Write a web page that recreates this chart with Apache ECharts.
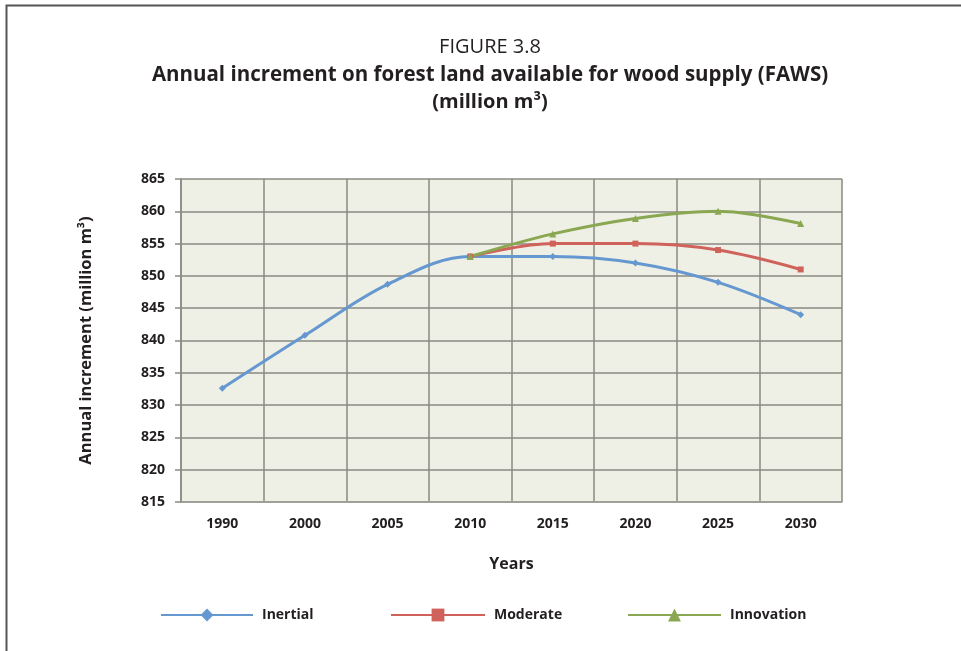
<!DOCTYPE html>
<html>
<head>
<meta charset="utf-8">
<script src="https://cdn.jsdelivr.net/npm/echarts@6/dist/echarts.min.js"></script>
<style>
html,body{margin:0;padding:0;background:#fff;}
#chart{width:961px;height:651px;}
</style>
</head>
<body>
<div id="chart"></div>
<script>
const years = ['1990', '2000', '2005', '2010', '2015', '2020', '2025', '2030'];
const inertial = [832.6, 840.8, 848.7, 853, 853, 852, 849, 844];
const moderate = [null, null, null, 853, 855, 855, 854, 851];
const innovation = [null, null, null, 853, 856.5, 858.9, 860, 858.1];
const yTicks = {min: 815, max: 865, step: 5};
const titleLines = ['FIGURE 3.8', 'Annual increment on forest land available for wood supply (FAWS)', '(million m³)'];

const FONT = '"Open Sans", "Noto Sans", sans-serif';
const chart = echarts.init(document.getElementById('chart'));

const colors = {inertial: '#6597d0', moderate: '#d0625c', innovation: '#8aa752'};

function lineSeries(name, data, color, symbol, size) {
  return {
    name: name,
    type: 'line',
    data: data,
    smooth: 0.35,
    connectNulls: false,
    symbol: symbol,
    symbolSize: size,
    showSymbol: true,
    lineStyle: {color: color, width: 3},
    itemStyle: {color: color},
    z: 3
  };
}

function titleText(text, y, weight, size) {
  return {type: 'text', silent: true, x: 490, y: y,
    style: {text: text, fill: '#231f20', textAlign: 'center', textVerticalAlign: 'middle',
            font: weight + ' ' + size + 'px ' + FONT}};
}

const legendText = {fontFamily: FONT, fontSize: 14, fontWeight: 'bold', color: '#231f20', padding: [0, 0, 0, 4]};

chart.setOption({
  backgroundColor: '#ffffff',
  animation: false,
  legend: [
    {data: ['Inertial'], left: 155, top: 603, itemWidth: 92, itemHeight: 16, textStyle: legendText},
    {data: ['Moderate'], left: 385, top: 603, itemWidth: 94, itemHeight: 16, textStyle: legendText},
    {data: ['Innovation'], left: 622, top: 603, itemWidth: 93, itemHeight: 16, textStyle: legendText}
  ],
  grid: {left: 181, top: 179, width: 661, height: 323, show: true,
         backgroundColor: '#eff0e5', borderWidth: 0},
  xAxis: {
    type: 'category',
    data: years,
    boundaryGap: true,
    name: 'Years',
    nameLocation: 'middle',
    nameGap: 54,
    nameTextStyle: {fontFamily: FONT, fontSize: 16, fontWeight: 'bold', color: '#231f20'},
    axisLine: {show: true, lineStyle: {color: '#a0a098', width: 1.5}},
    axisTick: {show: false},
    axisLabel: {margin: 15, fontFamily: FONT, fontSize: 14, fontWeight: 'bold', color: '#231f20'},
    splitLine: {show: true, lineStyle: {color: '#8a8a82', width: 1.5}}
  },
  yAxis: {
    type: 'value',
    min: yTicks.min,
    max: yTicks.max,
    interval: yTicks.step,
    name: 'Annual increment (million m³)',
    nameLocation: 'middle',
    nameGap: 86,
    nameTextStyle: {fontFamily: FONT, fontSize: 16.5, fontWeight: 'bold', color: '#231f20'},
    axisLine: {show: true, lineStyle: {color: '#8a8a82', width: 1.5}},
    axisTick: {show: true, length: 6, lineStyle: {color: '#8a8a82', width: 1.5}},
    axisLabel: {margin: 16, fontFamily: FONT, fontSize: 14, fontWeight: 'bold', color: '#231f20'},
    splitLine: {show: true, lineStyle: {color: '#8a8a82', width: 1.5}}
  },
  series: [
    lineSeries('Inertial', inertial, colors.inertial, 'diamond', 7),
    lineSeries('Moderate', moderate, colors.moderate, 'rect', 6),
    lineSeries('Innovation', innovation, colors.innovation, 'triangle', 7)
  ],
  graphic: [
    titleText(titleLines[0], 47, 'normal', 20),
    titleText(titleLines[1], 75, 'bold', 20.5),
    titleText(titleLines[2], 102, 'bold', 20),
    {type: 'polyline', silent: true,
     shape: {points: [[6.5, 651], [6.5, 5.5], [961, 5.5]]},
     style: {stroke: '#555555', lineWidth: 2, fill: null}}
  ]
});
</script>
</body>
</html>
